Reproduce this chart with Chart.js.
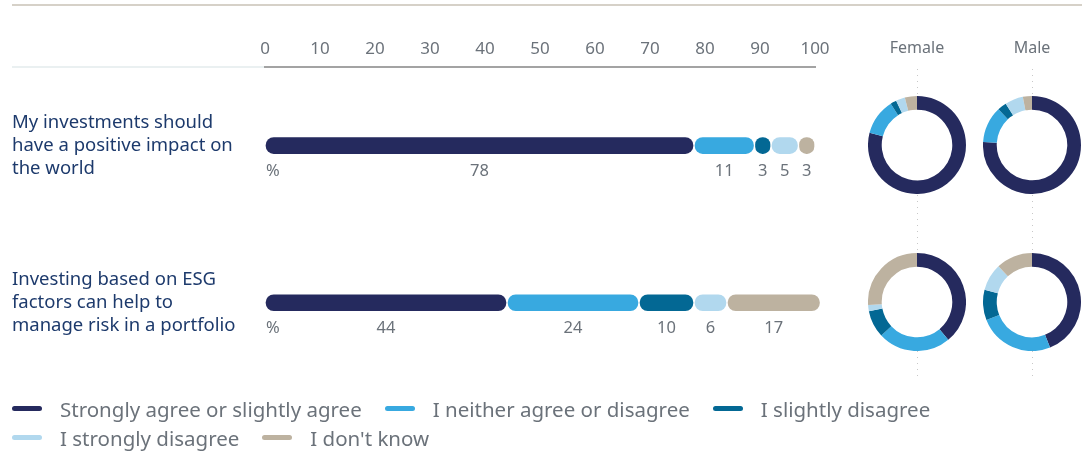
<!DOCTYPE html>
<html>
<head>
<meta charset="utf-8">
<script src="https://cdn.jsdelivr.net/npm/chart.js@4/dist/chart.umd.min.js"></script>
<style>
  html, body { margin: 0; padding: 0; background: #fff; }
  body { width: 1091px; height: 452px; position: relative; overflow: hidden; font-family: "Noto Sans", "Open Sans", sans-serif; }
  #barWrap { position: absolute; left: 0; top: 0; width: 1091px; height: 416px; }
  .donut { position: absolute; width: 98px; height: 98px; background: #fff; }
  #legend { position: absolute; left: 12px; top: 394px; width: 960px; display: flex; flex-wrap: wrap; column-gap: 23px; row-gap: 0; }
  .item { display: flex; align-items: center; height: 29px; font-size: 20.5px; color: #6b727a; }
  .mark { width: 30px; height: 5px; border-radius: 3px; margin-right: 18px; }
</style>
</head>
<body>
<div id="barWrap"><canvas id="barChart"></canvas></div>
<div class="donut" style="left:868px;top:96px"><canvas id="d0"></canvas></div>
<div class="donut" style="left:983px;top:96px"><canvas id="d1"></canvas></div>
<div class="donut" style="left:868px;top:253px"><canvas id="d2"></canvas></div>
<div class="donut" style="left:983px;top:253px"><canvas id="d3"></canvas></div>
<div id="legend"></div>
<script>
// data
var statements = [
    ['My investments should', 'have a positive impact on', 'the world'],
    ['Investing based on ESG', 'factors can help to', 'manage risk in a portfolio']
];
var seriesNames = ['Strongly agree or slightly agree', 'I neither agree or disagree', 'I slightly disagree', 'I strongly disagree', "I don't know"];
var seriesColors = ['#252a5e', '#38a9e0', '#036894', '#b1d8ee', '#bdb2a0'];
var agree = [78, 44];
var neither = [11, 24];
var slightlyDisagree = [3, 10];
var stronglyDisagree = [5, 6];
var dontKnow = [3, 17];
var xTicks = [0, 10, 20, 30, 40, 50, 60, 70, 80, 90, 100];
var genders = ['Female', 'Male'];
// doughnut shares (same series order)
var female1 = [79, 12, 2, 3, 4];
var male1 = [76, 12, 3, 6, 3];
var female2 = [39, 24, 9, 2, 26];
var male2 = [44, 25, 10, 9, 12];

var grey = '#6b727a';
var allSeries = [agree, neither, slightlyDisagree, stronglyDisagree, dontKnow];

// value labels under each segment
var valueLabels = {
    id: 'valueLabels',
    afterDatasetsDraw: function (chart) {
        var ctx = chart.ctx;
        ctx.save();
        ctx.font = '16.5px "Noto Sans", sans-serif';
        ctx.fillStyle = grey;
        ctx.textBaseline = 'middle';
        chart.data.datasets.forEach(function (ds, i) {
            var meta = chart.getDatasetMeta(i);
            meta.data.forEach(function (bar, j) {
                ctx.textAlign = 'center';
                ctx.fillText(ds.data[j], (bar.x + bar.base) / 2, bar.y + 26);
                if (i === 0) {
                    ctx.textAlign = 'left';
                    ctx.fillText('%', chart.chartArea.left + 1, bar.y + 26);
                }
            });
        });
        ctx.restore();
    }
};

// rules, headers and dotted guides
var decorations = {
    id: 'decorations',
    beforeDraw: function (chart) {
        var ctx = chart.ctx;
        var area = chart.chartArea;
        ctx.save();
        ctx.fillStyle = '#d6d1c8';
        ctx.fillRect(12, 4, 1070, 2);
        ctx.fillStyle = '#eaf0f1';
        ctx.fillRect(12, area.top - 1, area.left - 12, 2);
        ctx.strokeStyle = '#c8c8c8';
        ctx.setLineDash([1, 5]);
        ctx.lineWidth = 1;
        [917.5, 1032.5].forEach(function (x) {
            ctx.beginPath();
            ctx.moveTo(x, area.top + 2);
            ctx.lineTo(x, 381);
            ctx.stroke();
        });
        ctx.setLineDash([]);
        ctx.font = '16px "Noto Sans", sans-serif';
        ctx.fillStyle = grey;
        ctx.textAlign = 'center';
        ctx.textBaseline = 'middle';
        ctx.fillText(genders[0], 917, 48);
        ctx.fillText(genders[1], 1032, 48);
        ctx.restore();
    }
};

var barCtx = document.getElementById('barChart').getContext('2d');
var barChart = new Chart(barCtx, {
    type: 'bar',
    data: {
        labels: statements,
        datasets: seriesNames.map(function (name, i) {
            return {
                label: name,
                data: allSeries[i],
                backgroundColor: seriesColors[i],
                borderColor: '#ffffff',
                borderWidth: 1,
                borderSkipped: false,
                borderRadius: { topLeft: 9, topRight: 9, bottomLeft: 9, bottomRight: 9 },
                barThickness: 18,
                clip: false
            };
        })
    },
    options: {
        indexAxis: 'y',
        responsive: true,
        maintainAspectRatio: false,
        animation: false,
        layout: { padding: { left: 12, right: 276, top: 0, bottom: 11 } },
        plugins: {
            legend: { display: false },
            tooltip: { enabled: false }
        },
        scales: {
            x: {
                position: 'top',
                stacked: true,
                min: 0,
                max: 100,
                afterBuildTicks: function (scale) {
                    scale.ticks = xTicks.map(function (v) { return { value: v }; });
                },
                afterFit: function (scale) { scale.height = 67; },
                grid: { display: false, drawTicks: false },
                border: { color: '#a3a3a3', width: 2 },
                ticks: { color: grey, padding: 8, font: { family: '"Noto Sans", sans-serif', size: 17 } }
            },
            y: {
                stacked: true,
                afterFit: function (scale) { scale.width = 253; },
                grid: { display: false, drawTicks: false },
                border: { display: false },
                ticks: {
                    crossAlign: 'far',
                    padding: 0,
                    color: '#1d3a6c',
                    font: { family: '"Noto Sans", sans-serif', size: 18.5, lineHeight: 1.25 }
                }
            }
        }
    },
    plugins: [decorations, valueLabels]
});

// doughnuts
[female1, male1, female2, male2].forEach(function (vals, k) {
    new Chart(document.getElementById('d' + k).getContext('2d'), {
        type: 'doughnut',
        data: {
            labels: seriesNames,
            datasets: [{ data: vals, backgroundColor: seriesColors, borderWidth: 0 }]
        },
        options: {
            responsive: true,
            maintainAspectRatio: false,
            animation: false,
            cutout: '72%',
            plugins: { legend: { display: false }, tooltip: { enabled: false } }
        }
    });
});

// legend
var legend = document.getElementById('legend');
seriesNames.forEach(function (name, i) {
    var item = document.createElement('div');
    item.className = 'item';
    item.innerHTML = '<span class="mark" style="background:' + seriesColors[i] + '"></span>' + name;
    legend.appendChild(item);
});
</script>
</body>
</html>
